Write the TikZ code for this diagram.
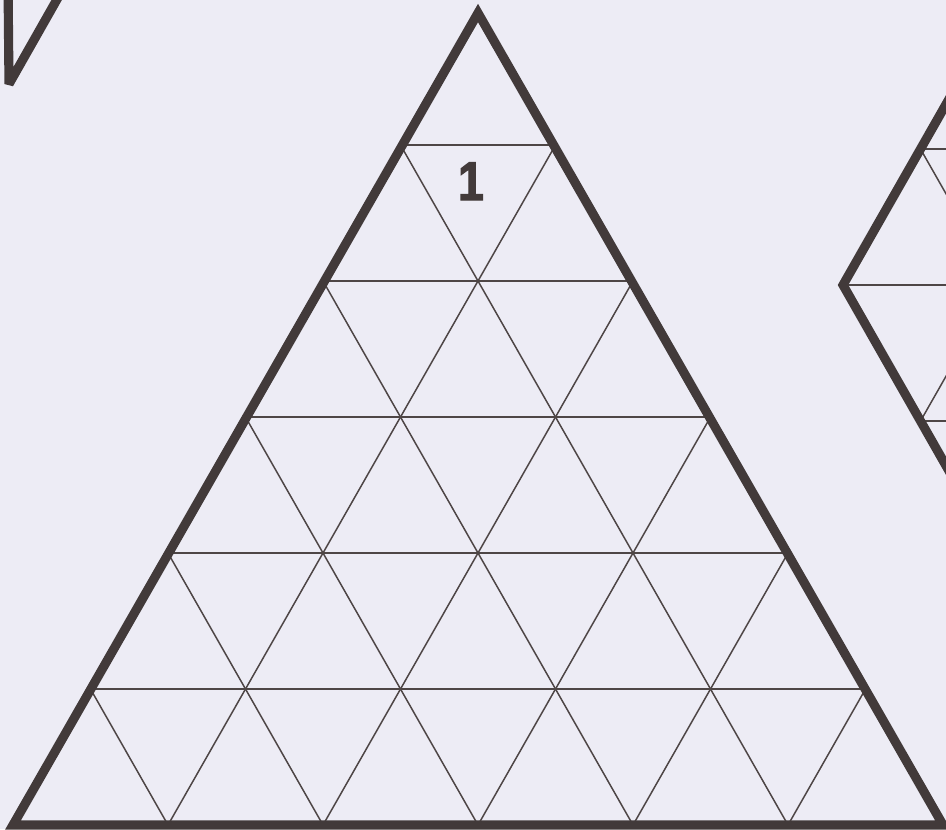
\documentclass[tikz,border=0pt]{standalone}
\usepackage{fontspec}
\newfontfamily\digitfont[FakeBold=2.5]{Liberation Sans Bold}
\definecolor{paper}{RGB}{237,236,245}
\definecolor{ink}{RGB}{66,58,58}
\definecolor{thinink}{RGB}{78,70,70}
\tikzset{
  border/.style={draw=ink, line width=5.2pt, line join=miter},
  gridline/.style={draw=thinink, line width=0.85pt},
}
\begin{document}
\begin{tikzpicture}[x=0.02cm, y=-0.02cm]
\useasboundingbox (0,0) rectangle (946,829);
\fill[paper] (0,0) rectangle (946,829);
\clip (0,0) rectangle (946,829);
% grid of the main triangle
\foreach \k in {1,...,5}{
  \pgfmathsetmacro\yk{9+136*\k}
  \pgfmathsetmacro\xl{478-77.5*\k}
  \pgfmathsetmacro\xr{478+77.5*\k}
  \pgfmathsetmacro\bl{478+(6-2*\k)*77.5}
  \pgfmathsetmacro\br{478+(2*\k-6)*77.5}
  \draw[gridline] (\xl,\yk) -- (\xr,\yk);
  \draw[gridline] (\xl,\yk) -- (\bl,825);
  \draw[gridline] (\xr,\yk) -- (\br,825);
}
% main triangle border
\coordinate (apex) at (478,13);
\coordinate (bl) at (13,825);
\coordinate (br) at (943,825);
\draw[border] (apex) -- (bl) -- (br) -- cycle;
% number
\node[inner sep=0pt, anchor=base, text=ink, xscale=0.85] (num) at (471,200) {\digitfont\fontsize{31pt}{31pt}\selectfont 1};
% right partial shape
\coordinate (rv) at (843,285);
\coordinate (ru) at (920.5,149);
\coordinate (rd) at (920.5,421);
\coordinate (rm) at (998,285);
\draw[gridline] (rv) -- (970,285);
\draw[gridline] (ru) -- (970,149);
\draw[gridline] (rd) -- (970,421);
\draw[gridline] (ru) -- (rm);
\draw[gridline] (rd) -- (rm);
\draw[border] (1010,-8) -- (rv) -- (1010,578);
% top-left partial shape
\coordinate (tl) at (9,84);
\draw[border, line join=bevel] (8,-20) -- (tl) -- (68,-20);
\end{tikzpicture}
\end{document}
